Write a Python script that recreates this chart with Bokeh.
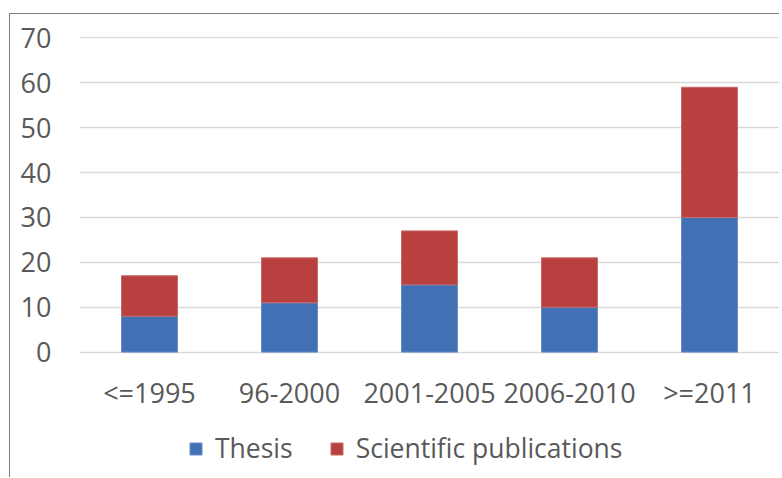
from bokeh.plotting import figure
from bokeh.models import FactorRange, Range1d, FixedTicker, Legend, LegendItem
from bokeh.embed import file_html
from bokeh.resources import INLINE

categories = ["<=1995", "96-2000", "2001-2005", "2006-2010", ">=2011"]
thesis = [8, 11, 15, 10, 30]
scientific = [9, 10, 12, 11, 29]
series_names = ["Thesis", "Scientific publications"]
y_ticks = [0, 10, 20, 30, 40, 50, 60, 70]

FONT = "Open Sans"
TEXT_COLOR = "#595959"
colors = ["#4170B5", "#B84140"]

p = figure(
    width=770, height=464,
    x_range=FactorRange(*categories, range_padding=0),
    y_range=Range1d(-28.15, 70.3),
    output_backend="svg", toolbar_location=None,
    min_border_left=69, min_border_right=1, min_border_top=22, min_border_bottom=0,
)
p.styles = {"margin-top": "13px", "margin-left": "9px",
            "border-left": "1px solid #7f7f7f", "border-top": "1px solid #7f7f7f"}
p.outline_line_color = None

data = {"cat": categories, "Thesis": thesis, "Scientific publications": scientific}
rs = p.vbar_stack(series_names, x="cat", width=0.4, source=data,
                  color=colors, line_color=["#6A8DC6", "#C86A68"], line_width=1)

p.xgrid.grid_line_color = None
p.ygrid.grid_line_color = "#d9d9d9"
p.ygrid.grid_line_width = 1.5
p.yaxis.ticker = FixedTicker(ticks=y_ticks)

for ax in (p.xaxis, p.yaxis):
    ax.axis_line_color = None
    ax.major_tick_line_color = None
    ax.minor_tick_line_color = None
    ax.major_tick_out = 0
    ax.major_label_text_font = FONT
    ax.major_label_text_font_size = "27px"
    ax.major_label_text_color = TEXT_COLOR
p.yaxis.major_label_standoff = 28
p.xaxis.major_label_standoff = 22
p.xaxis.fixed_location = 0

legend = Legend(
    items=[LegendItem(label=n, renderers=[r]) for n, r in zip(series_names, rs)],
    orientation="horizontal", location=(109, 12),
    label_text_font=FONT, label_text_font_size="26.5px", label_text_color=TEXT_COLOR,
    glyph_width=15, glyph_height=15, label_standoff=12, spacing=36,
    padding=0, margin=0, border_line_color=None, background_fill_alpha=0,
)
p.add_layout(legend, "center")

open("out.html", "w").write(file_html(p, INLINE))
